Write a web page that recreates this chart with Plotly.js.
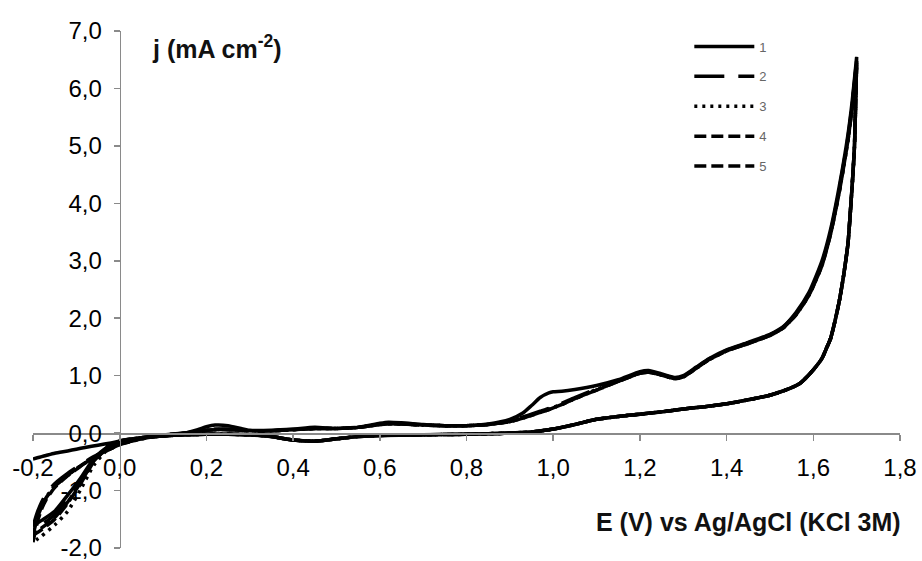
<!DOCTYPE html>
<html>
<head>
<meta charset="utf-8">
<script src="https://cdn.plot.ly/plotly-3.0.1.min.js"></script>
<style>html,body{margin:0;padding:0;background:#fff;}#chart{width:922px;height:561px;}</style>
</head>
<body>
<div id="chart"></div>
<script>
// Potential grids (V vs Ag/AgCl)
const E_fwd = [-0.2,-0.19,-0.18,-0.17,-0.15,-0.12,-0.1,-0.08,-0.05,-0.02,0,0.05,0.1,0.15,0.18,0.2,0.22,0.25,0.28,0.3,0.35,0.4,0.45,0.5,0.55,0.6,0.62,0.65,0.7,0.75,0.8,0.85,0.9,0.93,0.95,0.97,0.99,1.0,1.02,1.05,1.1,1.15,1.2,1.22,1.25,1.28,1.3,1.33,1.36,1.4,1.45,1.5,1.53,1.56,1.59,1.62,1.64,1.66,1.68,1.69,1.7];
const E_rev = [1.7,1.695,1.69,1.685,1.68,1.67,1.66,1.65,1.64,1.63,1.62,1.6,1.57,1.54,1.5,1.45,1.4,1.35,1.3,1.25,1.2,1.15,1.1,1.05,1.0,0.95,0.9,0.85,0.8,0.7,0.6,0.55,0.5,0.45,0.4,0.35,0.3,0.25,0.2,0.15,0.1,0.05,0,-0.03,-0.06,-0.09,-0.12,-0.15,-0.18,-0.2];

// Current density (mA cm-2), forward scans
const J1_fwd = [-0.45,-0.43,-0.41,-0.39,-0.35,-0.31,-0.28,-0.25,-0.21,-0.17,-0.14,-0.08,-0.03,0.0,0.06,0.11,0.14,0.13,0.08,0.05,0.05,0.07,0.10,0.08,0.10,0.17,0.19,0.18,0.15,0.13,0.13,0.16,0.24,0.35,0.48,0.62,0.70,0.72,0.73,0.76,0.83,0.93,1.07,1.09,1.03,0.97,1.00,1.15,1.30,1.45,1.58,1.72,1.85,2.10,2.45,3.00,3.55,4.30,5.20,5.80,6.55];
const J2_fwd = [-1.62,-1.38,-1.20,-1.06,-0.88,-0.70,-0.60,-0.50,-0.37,-0.26,-0.19,-0.09,-0.03,0.0,0.03,0.05,0.07,0.07,0.05,0.04,0.04,0.06,0.08,0.08,0.10,0.15,0.17,0.16,0.14,0.13,0.13,0.15,0.21,0.28,0.33,0.38,0.43,0.46,0.52,0.62,0.77,0.91,1.05,1.07,1.02,0.96,0.99,1.14,1.29,1.44,1.57,1.71,1.84,2.08,2.42,2.95,3.50,4.25,5.15,5.75,6.50];
const J3_fwd = [-1.72,-1.45,-1.26,-1.12,-0.93,-0.73,-0.62,-0.52,-0.38,-0.27,-0.20,-0.10,-0.04,0.0,0.03,0.05,0.06,0.06,0.05,0.04,0.04,0.06,0.08,0.08,0.10,0.15,0.16,0.16,0.14,0.13,0.13,0.15,0.20,0.27,0.32,0.37,0.42,0.45,0.50,0.60,0.76,0.90,1.04,1.06,1.01,0.95,0.98,1.13,1.28,1.43,1.56,1.70,1.83,2.07,2.40,2.93,3.48,4.22,5.10,5.72,6.48];
const J4_fwd = [-1.90,-1.55,-1.32,-1.16,-0.95,-0.74,-0.63,-0.52,-0.38,-0.27,-0.20,-0.10,-0.04,0.0,0.03,0.05,0.06,0.06,0.05,0.04,0.04,0.06,0.08,0.08,0.10,0.15,0.16,0.16,0.14,0.13,0.13,0.15,0.20,0.26,0.31,0.36,0.41,0.44,0.50,0.60,0.75,0.90,1.04,1.06,1.01,0.95,0.98,1.13,1.28,1.43,1.56,1.70,1.83,2.06,2.40,2.92,3.47,4.20,5.10,5.70,6.45];
const J5_fwd = [-1.78,-1.48,-1.28,-1.13,-0.93,-0.73,-0.62,-0.52,-0.38,-0.27,-0.20,-0.10,-0.04,0.0,0.03,0.05,0.06,0.06,0.05,0.04,0.04,0.06,0.08,0.08,0.10,0.15,0.16,0.16,0.14,0.13,0.13,0.15,0.20,0.26,0.31,0.36,0.41,0.44,0.50,0.60,0.75,0.90,1.04,1.06,1.01,0.95,0.98,1.13,1.28,1.43,1.56,1.70,1.83,2.06,2.40,2.92,3.47,4.20,5.10,5.70,6.45];

// Current density (mA cm-2), reverse scans
const J1_rev = [6.55,5.0,4.35,3.8,3.3,2.75,2.3,1.95,1.65,1.47,1.3,1.1,0.87,0.76,0.66,0.58,0.51,0.46,0.42,0.37,0.33,0.29,0.24,0.15,0.07,0.02,0.0,-0.01,-0.02,-0.03,-0.04,-0.06,-0.10,-0.14,-0.12,-0.06,-0.03,-0.02,-0.02,-0.03,-0.05,-0.08,-0.14,-0.25,-0.45,-0.78,-1.08,-1.36,-1.52,-1.62];
const J2_rev = [6.50,5.0,4.35,3.8,3.3,2.75,2.3,1.95,1.65,1.47,1.3,1.1,0.87,0.76,0.66,0.58,0.51,0.46,0.42,0.37,0.33,0.29,0.24,0.15,0.07,0.02,0.0,-0.01,-0.02,-0.03,-0.04,-0.06,-0.10,-0.14,-0.12,-0.06,-0.03,-0.02,-0.02,-0.03,-0.05,-0.08,-0.14,-0.26,-0.47,-0.82,-1.14,-1.42,-1.60,-1.72];
const J3_rev = [6.48,5.0,4.35,3.8,3.3,2.75,2.3,1.95,1.65,1.47,1.3,1.1,0.87,0.76,0.66,0.58,0.51,0.46,0.42,0.37,0.33,0.29,0.24,0.15,0.07,0.02,0.0,-0.01,-0.02,-0.03,-0.04,-0.06,-0.10,-0.14,-0.12,-0.06,-0.03,-0.02,-0.02,-0.03,-0.05,-0.08,-0.15,-0.30,-0.56,-0.98,-1.36,-1.60,-1.79,-1.90];
const J4_rev = [6.45,5.0,4.35,3.8,3.3,2.75,2.3,1.95,1.65,1.47,1.3,1.1,0.87,0.76,0.66,0.58,0.51,0.46,0.42,0.37,0.33,0.29,0.24,0.15,0.07,0.02,0.0,-0.01,-0.02,-0.03,-0.04,-0.06,-0.10,-0.14,-0.12,-0.06,-0.03,-0.02,-0.02,-0.03,-0.05,-0.08,-0.14,-0.27,-0.50,-0.88,-1.22,-1.50,-1.68,-1.78];
const J5_rev = [6.45,5.0,4.35,3.8,3.3,2.75,2.3,1.95,1.65,1.47,1.3,1.1,0.87,0.76,0.66,0.58,0.51,0.46,0.42,0.37,0.33,0.29,0.24,0.15,0.07,0.02,0.0,-0.01,-0.02,-0.03,-0.04,-0.06,-0.10,-0.14,-0.12,-0.06,-0.03,-0.02,-0.02,-0.03,-0.05,-0.08,-0.14,-0.27,-0.49,-0.86,-1.20,-1.47,-1.65,-1.75];

const cycleNames = ['1','2','3','4','5'];
const xTickVals = [-0.2,0,0.2,0.4,0.6,0.8,1.0,1.2,1.4,1.6,1.8];
const xTickText = ['-0,2','0,0','0,2','0,4','0,6','0,8','1,0','1,2','1,4','1,6','1,8'];
const yTickVals = [-2,-1,0,1,2,3,4,5,6,7];
const yTickText = ['-2,0','-1,0','0,0','1,0','2,0','3,0','4,0','5,0','6,0','7,0'];

const fwd = [J1_fwd,J2_fwd,J3_fwd,J4_fwd,J5_fwd];
const rev = [J1_rev,J2_rev,J3_rev,J4_rev,J5_rev];
const dashes = ['solid','30px,14px','3px,5px','12px,5px','12px,5px'];

const traces = cycleNames.map((name,i)=>({
  type:'scatter', mode:'lines', name:name, legendgroup:'g'+i,
  x:E_fwd.concat(E_rev), y:fwd[i].concat(rev[i]),
  line:{color:'#000', width:3.5, dash:dashes[i], shape:'spline', smoothing:0.6}
}));

const FAM = 'Arial, "Liberation Sans", sans-serif';
const axisFont = {family:FAM, size:24, color:'#000'};
const layout = {
  width:922, height:561,
  margin:{l:33, r:22, t:31, b:13, pad:0},
  paper_bgcolor:'#fff', plot_bgcolor:'#fff',
  showlegend:true,
  legend:{x:0.757, y:0.999, xanchor:'left', yanchor:'top', bgcolor:'rgba(0,0,0,0)',
          font:{family:FAM, size:13, color:'#666'},
          itemwidth:60, tracegroupgap:10, traceorder:'grouped'},
  xaxis:{range:[-0.2,1.8], anchor:'free', position:2/9, showline:true, linecolor:'#8a8a8a', linewidth:1.5,
         ticks:'outside', ticklen:6, tickwidth:1.5, tickcolor:'#8a8a8a', tickvals:xTickVals, ticktext:xTickText,
         showgrid:false, zeroline:false, tickfont:axisFont, ticklabelstandoff:7, ticklabeloverflow:'allow'},
  yaxis:{range:[-2,7], anchor:'free', position:0.1, showline:true, linecolor:'#8a8a8a', linewidth:1.5,
         ticks:'outside', ticklen:6, tickwidth:1.5, tickcolor:'#8a8a8a', tickvals:yTickVals, ticktext:yTickText,
         showgrid:false, zeroline:false, tickfont:axisFont, ticklabelstandoff:7, ticklabeloverflow:'allow'},
  annotations:[
    {text:'j (mA cm<sup>-2</sup>)', xref:'paper', yref:'paper', x:0.135, y:0.969, xanchor:'left', yanchor:'middle',
     showarrow:false, font:{family:FAM, size:25, color:'#111', weight:'bold'}},
    {text:'E (V) vs Ag/AgCl (KCl 3M)', xref:'paper', yref:'paper', x:1.004, y:0.05, xanchor:'right', yanchor:'middle',
     showarrow:false, font:{family:FAM, size:25, color:'#111', weight:'bold'}}
  ]
};
Plotly.newPlot('chart', traces, layout, {displayModeBar:false, staticPlot:true});
</script>
</body>
</html>
